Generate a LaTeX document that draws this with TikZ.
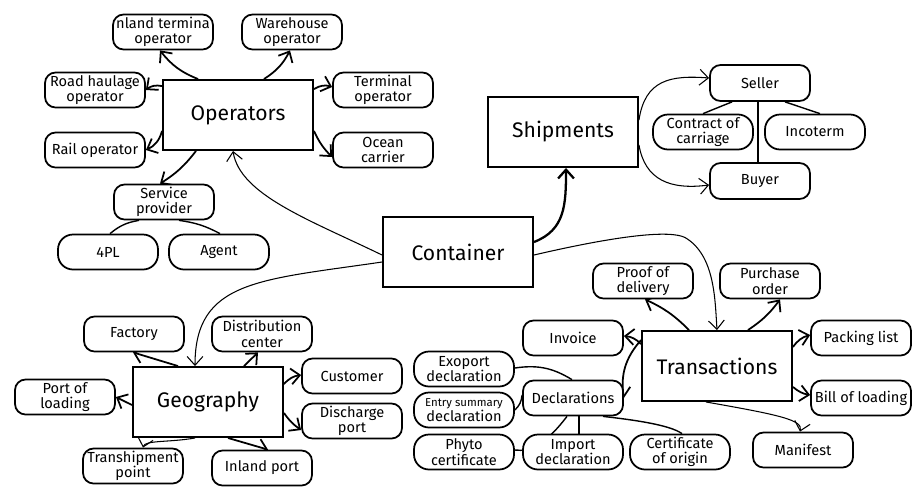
\documentclass[tikz,border=0pt]{standalone}
\usepackage{fontspec}
\setmainfont{Fira Sans}
\usetikzlibrary{arrows.meta,positioning,calc,backgrounds}

\begin{document}
\begin{tikzpicture}[
    hub/.style={draw, line width=1.1pt, fill=white, minimum width=3cm, minimum height=1.4cm, font=\fontsize{12}{13}\selectfont},
    leaf/.style={draw, line width=1pt, fill=white, rounded corners=6pt, minimum width=2cm, minimum height=0.7cm, align=center, inner sep=1pt, font=\fontsize{8.3}{8.8}\selectfont},
    pill/.style={leaf, rounded corners=0.3cm},
    arr/.style={-{Straight Barb[length=5pt,width=9pt]}, line width=1pt},
    thin/.style={-{Straight Barb[length=5pt,width=9pt]}, line width=0.6pt},
    link/.style={line width=0.8pt}
]
    \useasboundingbox (0,0) rectangle (18.4,-9.72);

    % Operators
    \node[hub] (ops) at (4.76,-2.30) {Operators};
    \node[leaf] (inland) at (3.26,-0.64) {nland termina\\operator};
    \node[leaf] (warehouse) at (5.84,-0.64) {Warehouse\\operator};
    \node[leaf] (road) at (1.90,-1.80) {Road haulage\\operator};
    \node[leaf] (rail) at (1.90,-3.00) {Rail operator};
    \node[leaf] (terminal) at (7.66,-1.80) {Terminal\\operator};
    \node[leaf] (ocean) at (7.66,-3.00) {Ocean\\carrier};
    \node[leaf] (service) at (3.28,-4.04) {Service\\provider};
    \node[pill] (fourpl) at (2.16,-5.04) {4PL};
    \node[pill] (agent) at (4.38,-5.04) {Agent};

    % Container
    \node[hub] (container) at (9.16,-5.04) {Container};

    % Shipments
    \node[hub] (ship) at (11.26,-2.64) {Shipments};
    \node[leaf, minimum height=0.72cm] (seller) at (15.20,-1.66) {Seller};
    \node[leaf, minimum height=0.72cm] (buyer) at (15.20,-3.62) {Buyer};
    \node[pill] (contract) at (14.06,-2.64) {Contract of\\carriage};
    \node[pill] (incoterm) at (16.30,-2.64) {Incoterm};

    % Geography
    \node[hub] (geo) at (4.16,-8.04) {Geography};
    \node[leaf] (factory) at (2.68,-6.68) {Factory};
    \node[leaf] (distrib) at (5.24,-6.68) {Distribution\\center};
    \node[leaf] (customer) at (7.04,-7.52) {Customer};
    \node[leaf] (discharge) at (7.04,-8.42) {Discharge\\port};
    \node[leaf] (portload) at (1.30,-7.94) {Port of\\loading};
    \node[leaf] (tranship) at (2.66,-9.32) {Transhipment\\point};
    \node[leaf] (inlandport) at (5.24,-9.36) {Inland port};

    % Transactions
    \node[hub] (trans) at (14.34,-7.32) {Transactions};
    \node[leaf] (proof) at (12.86,-5.62) {Proof of\\delivery};
    \node[leaf] (purchase) at (15.40,-5.62) {Purchase\\order};
    \node[leaf] (invoice) at (11.46,-6.76) {Invoice};
    \node[leaf] (packing) at (17.22,-6.76) {Packing list};
    \node[leaf] (bill) at (17.22,-7.96) {Bill of loading};
    \node[leaf] (manifest) at (16.06,-9.00) {Manifest};
    \node[leaf] (decl) at (11.46,-7.96) {Declarations};
    \node[pill] (exoport) at (9.28,-7.38) {Exoport\\declaration};
    \node[pill] (entry) at (9.28,-8.20) {{\fontsize{6.5}{7}\selectfont Entry summary}\\declaration};
    \node[pill] (phyto) at (9.28,-9.04) {Phyto\\certificate};
    \node[pill] (import) at (11.46,-9.04) {Import\\declaration};
    \node[pill] (origin) at (13.60,-9.04) {Certificate\\of origin};

    \begin{pgfonlayer}{background}
    \draw[arr] ([xshift=0.72cm]ops.north west) to[bend left=15] ([xshift=-0.06cm]inland.south);
    \draw[arr] ([xshift=-1cm]ops.north east) to[bend right=15] ([xshift=-0.04cm]warehouse.south);
    \draw[arr] ([yshift=-0.14cm]ops.north west) to[bend right=25] (road.east);
    \draw[arr] ([yshift=0.4cm]ops.south west) to[bend left=25] (rail.east);
    \draw[arr] ([yshift=-0.2cm]ops.north east) to[bend left=25] ([yshift=0.06cm]terminal.west);
    \draw[arr] ([yshift=0.4cm]ops.south east) to[bend right=10] ([yshift=-0.14cm]ocean.west);
    \draw[arr] ([xshift=-0.84cm]ops.south) to[bend left=10] ([xshift=-0.08cm]service.north);
    \draw[link] ([xshift=-0.5cm]service.south) to[bend right=15] ([xshift=0.04cm]fourpl.north);
    \draw[link] ([xshift=0.3cm]service.south) to[bend left=10] ([xshift=0.02cm]agent.north);

    \draw[thin] ([yshift=-0.06cm]container.west) .. controls (6.2,-4.4) and (4.8,-3.9) .. ([xshift=-0.1cm]ops.south);
    \draw[thin] ([yshift=-0.2cm]container.west) .. controls (5.2,-5.6) and (3.9,-5.6) .. ([xshift=-0.26cm]geo.north);
    \draw[arr, line width=1.3pt] ([yshift=0.2cm]container.east) .. controls (11.3,-4.6) and (11.32,-4.1) .. ([xshift=0.06cm]ship.south);
    \draw[thin] ([yshift=-0.06cm]container.east) .. controls (12.4,-4.7) and (13.4,-4.6) .. (13.7,-4.75) .. controls (14.3,-5.1) and (14.3,-6.0) .. (trans.north);

    \draw[thin] ([yshift=0.24cm]ship.east) .. controls (12.9,-1.6) and (13.4,-1.5) .. ([yshift=0.1cm]seller.west);
    \draw[thin] ([yshift=-0.26cm]ship.east) .. controls (12.9,-3.6) and (13.4,-3.8) .. ([yshift=-0.08cm]buyer.west);
    \draw[link] ([xshift=-0.04cm]seller.south) -- ([xshift=-0.04cm]buyer.north);
    \draw[link] ([xshift=-0.56cm]seller.south) -- (contract.north);
    \draw[link] ([xshift=0.5cm]seller.south) -- ([xshift=0.1cm]incoterm.north);

    \draw[arr] ([xshift=-0.6cm]geo.north) -- ([xshift=-0.02cm]factory.south);
    \draw[arr] ([xshift=-0.8cm]geo.north east) -- ([xshift=-0.08cm]distrib.south);
    \draw[arr] ([yshift=-0.36cm]geo.north east) to[bend left=20] ([yshift=0.02cm]customer.west);
    \draw[arr] ([yshift=0.5cm]geo.south east) to[bend right=10] ([yshift=-0.18cm]discharge.west);
    \draw[arr] ([yshift=-0.06cm]geo.west) -- (portload.east);
    \draw[thin] ([xshift=-0.26cm]geo.south) .. controls (3.4,-8.85) and (2.9,-8.8) .. ([xshift=0.2cm]tranship.north);
    \draw[arr] ([xshift=0.4cm]geo.south) -- ([xshift=0.12cm]inlandport.north);

    \draw[arr] ([xshift=0.96cm]trans.north west) to[bend right=10] ([xshift=0.04cm]proof.south);
    \draw[arr] ([xshift=-0.9cm]trans.north east) to[bend right=10] ([xshift=0.2cm]purchase.south);
    \draw[arr] ([yshift=-0.28cm]trans.north west) to[bend right=20] ([yshift=0.04cm]invoice.east);
    \draw[arr] ([yshift=-0.34cm]trans.north east) to[bend left=20] ([yshift=0.06cm]packing.west);
    \draw[arr] ([yshift=0.3cm]trans.south east) to[bend right=15] ([yshift=0.06cm]bill.west);
    \draw[thin] ([xshift=-1.74cm]trans.south east) .. controls (15.6,-8.3) and (16.06,-8.4) .. ([xshift=-0.06cm]manifest.north);
    \draw[arr] ([yshift=-0.2cm]trans.north west) to[bend right=25] (decl.east);

    \draw[link] ([yshift=0.02cm]exoport.east) to[bend left=20] ([xshift=-0.02cm]decl.north);
    \draw[link] (entry.east) to[bend right=20] ([yshift=0.06cm]decl.west);
    \draw[link] ([xshift=0.12cm]decl.south) -- ([xshift=0.12cm]import.north);
    \draw[link] ([xshift=-0.12cm]decl.south) .. controls (10.9,-8.9) and (10.6,-9.04) .. ([yshift=0.04cm]phyto.east);
    \draw[link] ([xshift=0.6cm]decl.south) .. controls (12.7,-8.4) and (13.4,-8.5) .. ([xshift=0.04cm]origin.north);
    \end{pgfonlayer}
\end{tikzpicture}
\end{document}
